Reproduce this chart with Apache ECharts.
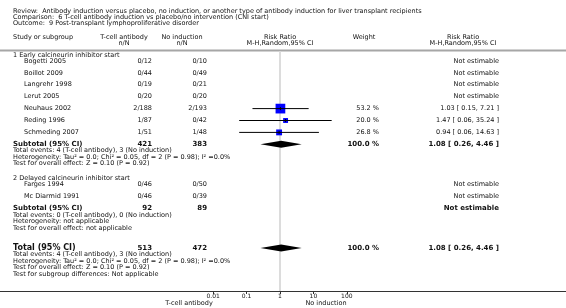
<!DOCTYPE html>
<html>
<head>
<meta charset="utf-8">
<script src="https://cdn.jsdelivr.net/npm/echarts@6/dist/echarts.min.js"></script>
<style>
html, body { margin: 0; padding: 0; background: #fff; }
#chart { width: 566px; height: 308px; }
</style>
</head>
<body>
<div id="chart"></div>
<script>
// ---- data ----
var headerLines = [
	'Review:  Antibody induction versus placebo, no induction, or another type of antibody induction for liver transplant recipients',
	'Comparison:  6 T-cell antibody induction vs placebo/no intervention (CNI start)',
	'Outcome:  9 Post-transplant lymphoproliferative disorder'
];
var groupNames = ['1 Early calcineurin inhibitor start', '2 Delayed calcineurin inhibitor start'];
var studyNames = ['Bogetti 2005', 'Boillot 2009', 'Langrehr 1998', 'Lerut 2005', 'Neuhaus 2002',
	'Reding 1996', 'Schmeding 2007', 'Farges 1994', 'Mc Diarmid 1991'];
var studyGroup = [0, 0, 0, 0, 0, 0, 0, 1, 1];
var tcellEvents = [0, 0, 0, 0, 2, 1, 1, 0, 0];
var tcellTotal = [12, 44, 19, 20, 188, 87, 51, 46, 46];
var noindEvents = [0, 0, 0, 0, 2, 0, 1, 0, 0];
var noindTotal = [10, 49, 21, 20, 193, 42, 48, 50, 39];
var riskRatio = [null, null, null, null, 1.03, 1.47, 0.94, null, null];
var ciLow = [null, null, null, null, 0.15, 0.06, 0.06, null, null];
var ciHigh = [null, null, null, null, 7.21, 35.24, 14.63, null, null];
var weights = [null, null, null, null, 53.2, 20.0, 26.8, null, null];

var subtotalTcell = [421, 92];
var subtotalNoind = [383, 89];
var subtotalRR = [1.08, null];
var subtotalLow = [0.26, null];
var subtotalHigh = [4.46, null];
var subtotalWeight = [100.0, null];
var subtotalEvents = ['4 (T-cell antibody), 3 (No induction)', '0 (T-cell antibody), 0 (No induction)'];
var subtotalHet = ['Tau\u00B2 = 0.0; Chi\u00B2 = 0.05, df = 2 (P = 0.98); I\u00B2 =0.0%', 'not applicable'];
var subtotalEffect = ['Z = 0.10 (P = 0.92)', 'not applicable'];

var totalTcell = 513;
var totalNoind = 472;
var totalRR = [1.08, 0.26, 4.46];
var totalWeight = 100.0;
var totalEvents = '4 (T-cell antibody), 3 (No induction)';
var totalHet = 'Tau\u00B2 = 0.0; Chi\u00B2 = 0.05, df = 2 (P = 0.98); I\u00B2 =0.0%';
var totalEffect = 'Z = 0.10 (P = 0.92)';
var subgroupDiff = 'Not applicable';

var axisTicks = [0.01, 0.1, 1, 10, 100];
var axisSideNames = ['T-cell antibody', 'No induction'];

// ---- layout ----
var W = 566;
var FONT = 'DejaVu Sans';
var FS = 6.5, FS_SUB = 7, FS_TOT = 8;
var X_LEFT = 13, X_INDENT = 24;
var X_T = 152, X_T_HEAD = 124;
var X_C = 207, X_C_HEAD = 182;
var X_W = 379, X_W_HEAD = 364;
var X_RR = 499, X_RR_HEAD = 463;
var X_ONE = 280, PX_DECADE = 33.4;
var AXIS_Y = 291;

var texts = [];
var marks = [];

function txt(x, y, s, align, size, bold) {
	texts.push({
		type: 'text', x: x, y: y, silent: true,
		style: {
			text: s, x: 0, y: 0, fill: '#111',
			font: (bold ? 'bold ' : '') + (size || FS) + 'px "' + FONT + '"',
			textAlign: align || 'left', textVerticalAlign: 'middle'
		}
	});
}
function lg(v) { return Math.log10(v); }
function rrText(r, l, h) { return r.toFixed(2) + ' [ ' + l.toFixed(2) + ', ' + h.toFixed(2) + ' ]'; }

// header
headerLines.forEach(function (s, i) { txt(X_LEFT, 11 + i * 6.3, s); });
txt(X_LEFT, 37, 'Study or subgroup');
txt(X_T_HEAD, 37, 'T-cell antibody', 'center');
txt(X_T_HEAD, 43.5, 'n/N', 'center');
txt(X_C_HEAD, 37, 'No induction', 'center');
txt(X_C_HEAD, 43.5, 'n/N', 'center');
txt(X_ONE, 37, 'Risk Ratio', 'center');
txt(X_ONE, 43.5, 'M-H,Random,95% CI', 'center');
txt(X_W_HEAD, 37, 'Weight', 'center');
txt(X_RR_HEAD, 37, 'Risk Ratio', 'center');
txt(X_RR_HEAD, 43.5, 'M-H,Random,95% CI', 'center');

// body rows
var y = 55;
groupNames.forEach(function (g, gi) {
	txt(X_LEFT, y, g);
	y += gi === 0 ? 6 : 6.5;
	studyNames.forEach(function (name, i) {
		if (studyGroup[i] !== gi) return;
		txt(X_INDENT, y, name);
		txt(X_T, y, tcellEvents[i] + '/' + tcellTotal[i], 'right');
		txt(X_C, y, noindEvents[i] + '/' + noindTotal[i], 'right');
		if (riskRatio[i] != null) {
			txt(X_W, y, weights[i].toFixed(1) + ' %', 'right');
			txt(X_RR, y, rrText(riskRatio[i], ciLow[i], ciHigh[i]), 'right');
			marks.push([lg(riskRatio[i]), y, lg(ciLow[i]), lg(ciHigh[i]), 2 + weights[i] * 0.145, 0]);
		} else {
			txt(X_RR, y, 'Not estimable', 'right');
		}
		y += 11.9;
	});
	txt(X_LEFT, y, 'Subtotal (95% CI)', 'left', FS_SUB, true);
	txt(X_T, y, String(subtotalTcell[gi]), 'right', FS_SUB, true);
	txt(X_C, y, String(subtotalNoind[gi]), 'right', FS_SUB, true);
	if (subtotalRR[gi] != null) {
		txt(X_W, y, subtotalWeight[gi].toFixed(1) + ' %', 'right', FS_SUB, true);
		txt(X_RR, y, rrText(subtotalRR[gi], subtotalLow[gi], subtotalHigh[gi]), 'right', FS_SUB, true);
		marks.push([lg(subtotalRR[gi]), y, lg(subtotalLow[gi]), lg(subtotalHigh[gi]), 7, 1]);
	} else {
		txt(X_RR, y, 'Not estimable', 'right', FS_SUB, true);
	}
	y += 6.5;
	txt(X_LEFT, y, 'Total events: ' + subtotalEvents[gi]); y += 6.5;
	txt(X_LEFT, y, 'Heterogeneity: ' + subtotalHet[gi]); y += 6.5;
	txt(X_LEFT, y, 'Test for overall effect: ' + subtotalEffect[gi]);
	y += 14.5;
});
y += 5.5;
txt(X_LEFT, y, 'Total (95% CI)', 'left', FS_TOT, true);
txt(X_T, y, String(totalTcell), 'right', FS_SUB, true);
txt(X_C, y, String(totalNoind), 'right', FS_SUB, true);
txt(X_W, y, totalWeight.toFixed(1) + ' %', 'right', FS_SUB, true);
txt(X_RR, y, rrText(totalRR[0], totalRR[1], totalRR[2]), 'right', FS_SUB, true);
marks.push([lg(totalRR[0]), y, lg(totalRR[1]), lg(totalRR[2]), 7, 1]);
y += 6.5;
txt(X_LEFT, y, 'Total events: ' + totalEvents); y += 6.5;
txt(X_LEFT, y, 'Heterogeneity: ' + totalHet); y += 6.5;
txt(X_LEFT, y, 'Test for overall effect: ' + totalEffect); y += 6.5;
txt(X_LEFT, y, 'Test for subgroup differences: ' + subgroupDiff);

// axis side names
txt(189, 303, axisSideNames[0], 'center');
txt(326, 303, axisSideNames[1], 'center');

// header rule
texts.push({ type: 'rect', silent: true, shape: { x: 0, y: 49.5, width: W, height: 2 }, style: { fill: '#a6a6a6' } });

function renderForest(params, api) {
	var kind = api.value(5);
	var c = api.coord([api.value(0), api.value(1)]);
	var l = api.coord([api.value(2), api.value(1)]);
	var h = api.coord([api.value(3), api.value(1)]);
	if (kind === 1) {
		var hh = api.value(4) / 2;
		return {
			type: 'polygon',
			shape: { points: [[l[0], c[1]], [c[0], c[1] - hh], [h[0], c[1]], [c[0], c[1] + hh]] },
			style: { fill: '#000' }
		};
	}
	var s = api.value(4);
	return {
		type: 'group',
		children: [
			{ type: 'rect', shape: { x: c[0] - s / 2, y: c[1] - s / 2, width: s, height: s }, style: { fill: '#0000ff' } },
			{ type: 'line', shape: { x1: l[0], y1: c[1], x2: h[0], y2: c[1] }, style: { stroke: '#000', lineWidth: 1 } },
			{ type: 'line', shape: { x1: c[0], y1: c[1] - 1.5, x2: c[0], y2: c[1] + 1.5 }, style: { stroke: '#000', lineWidth: 1 } }
		]
	};
}

var tickVals = axisTicks.map(lg);

var chart = echarts.init(document.getElementById('chart'), null, { renderer: 'canvas' });
chart.setOption({
	animation: false,
	backgroundColor: '#fff',
	grid: { left: 0, right: 0, top: 0, height: AXIS_Y },
	xAxis: {
		type: 'value',
		min: -X_ONE / PX_DECADE,
		max: (W - X_ONE) / PX_DECADE,
		splitLine: { show: false },
		axisLine: { show: true, onZero: false, lineStyle: { color: '#333', width: 1 } },
		axisTick: { show: true, length: 3, lineStyle: { color: '#333' }, customValues: tickVals },
		axisLabel: {
			show: true, margin: 2, fontSize: 6, fontFamily: FONT, color: '#111',
			customValues: tickVals,
			formatter: function (v) {
				var i = tickVals.findIndex(function (t) { return Math.abs(t - v) < 1e-6; });
				return i >= 0 ? String(axisTicks[i]) : '';
			}
		}
	},
	yAxis: { type: 'value', min: 0, max: AXIS_Y, inverse: true, show: false },
	series: [
		{
			type: 'line', data: [], silent: true, z: 1,
			markLine: {
				silent: true, z: 1, symbol: 'none', label: { show: false },
				lineStyle: { color: '#dcdcdc', width: 2, type: 'solid' },
				data: [[{ coord: [0, 51.5] }, { coord: [0, AXIS_Y] }]]
			}
		},
		{
			type: 'custom', z: 3, silent: true,
			renderItem: renderForest,
			data: marks
		}
	],
	graphic: texts
});
</script>
</body>
</html>
